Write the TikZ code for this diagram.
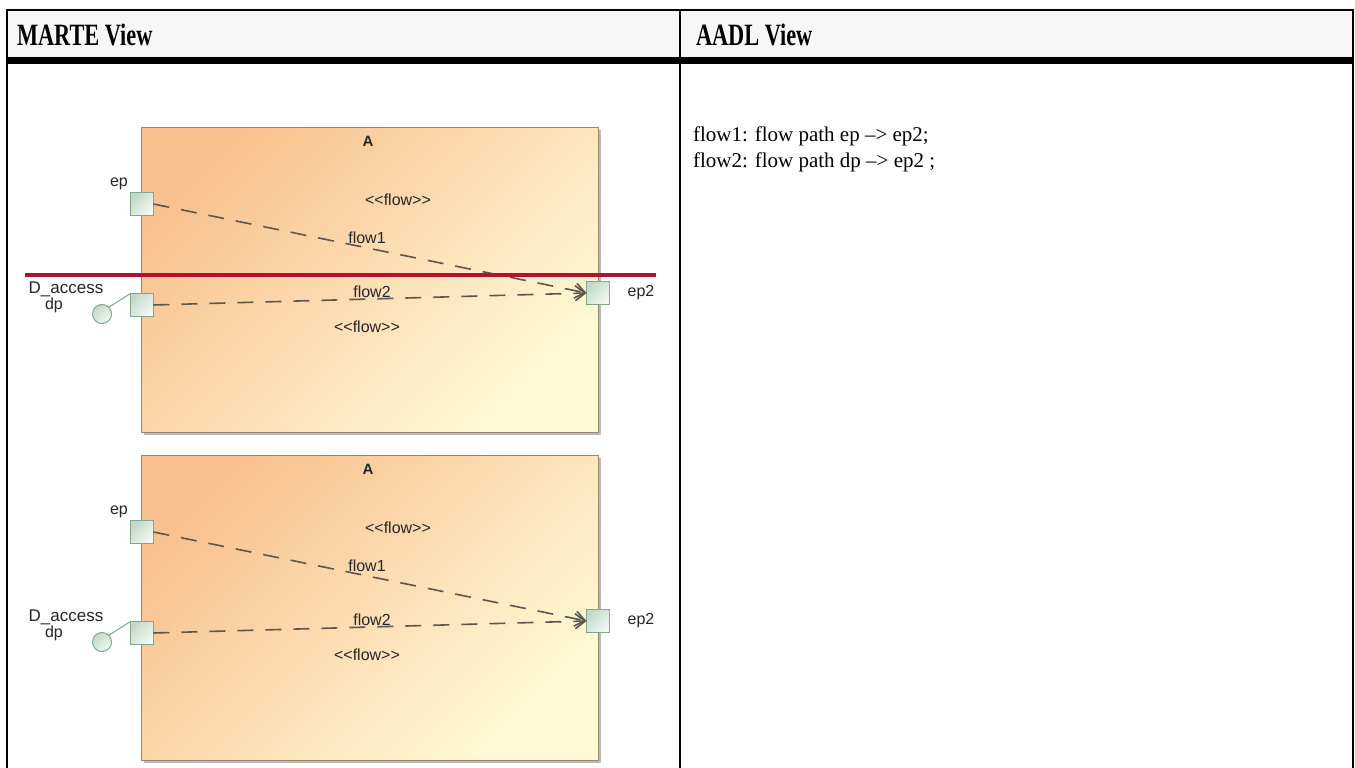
\documentclass[tikz,border=0pt]{standalone}
\usepackage{fontspec}
\setmainfont{Liberation Serif}
\setsansfont{Liberation Sans}
\newfontfamily\headfont{Liberation Serif}[FakeStretch=0.72]
\usepackage{xcolor}
\usetikzlibrary{arrows.meta,shadows}
\definecolor{boxtl}{HTML}{F9C18F}
\definecolor{boxbr}{HTML}{FFFAD6}
\definecolor{boxline}{HTML}{9A8670}
\definecolor{portdark}{HTML}{C3D9C8}
\definecolor{portlight}{HTML}{F2F8F2}
\definecolor{portline}{HTML}{7EA889}
\definecolor{flowgray}{HTML}{5E564C}
\definecolor{cutred}{HTML}{B3112C}
\definecolor{headgray}{HTML}{F7F7F7}

\begin{document}
\begin{tikzpicture}[x=1pt,y=-1pt,
  every node/.style={inner sep=0pt,outer sep=0pt},
  classbox/.style={draw=boxline,line width=1pt,top color=boxtl,
    bottom color=boxbr,shading angle=45,
    minimum width=457pt,minimum height=305pt,
    drop shadow={shadow xshift=3pt,shadow yshift=-3pt,
      fill=black!45,opacity=0.6}},
  port/.style={draw=portline,line width=1pt,top color=portdark,
    bottom color=portlight,shading angle=45,minimum size=23pt},
  lbl/.style={font=\sffamily\fontsize{16}{18}\selectfont,text=black!85},
  flowline/.style={draw=flowgray,line width=1.6pt,
    dash pattern=on 16pt off 12pt,
    -{Straight Barb[length=10pt,width=15pt]}},
  headtext/.style={anchor=base west,
    font=\headfont\bfseries\fontsize{31}{33}\selectfont},
  aadltext/.style={anchor=base west,font=\fontsize{21}{25}\selectfont}
]
\fill[white] (0,0) rectangle (1355,768);
\useasboundingbox (0,0) rectangle (1355,768);

% table frame
\fill[headgray] (7,10) rectangle (1353,57);
\draw[line width=2pt] (7,10) -- (1353,10);
\draw[line width=7pt] (7,60.5) -- (1353,60.5);
\draw[line width=2pt] (7,9) -- (7,768);
\draw[line width=2pt] (680,9) -- (680,768);
\draw[line width=2pt] (1353,9) -- (1353,768);
\node[headtext] (marte) at (17,46) {MARTE View};
\node[headtext] (aadl) at (696,46) {AADL View};

% the two MARTE diagrams
\foreach \n/\dy in {1/0,2/328}{
  \begin{scope}[shift={(0,\dy)}]
    \node[classbox] (box\n) at (369.5,279.5) {};
    \node[font=\sffamily\bfseries\fontsize{15}{17}\selectfont,text=black!85]
      (name\n) at (368,141) {A};
    \node[port] (ep\n) at (142,204) {};
    \node[port] (dp\n) at (142,305) {};
    \node[port] (eptwo\n) at (598,293) {};
    \node[port,circle,minimum size=19pt] (dpend\n) at (102,314) {};
    \node[lbl] (eplbl\n) at (119,184) {ep};
    \node[lbl,font=\sffamily\fontsize{17}{19}\selectfont] (dacc\n) at (66,289) {D\_access};
    \node[lbl] (dplbl\n) at (54,305) {dp};
    \node[lbl] (eptwolbl\n) at (641,293) {ep2};
    \node[lbl] (stereoa\n) at (398,200) {{<}{<}flow{>}{>}};
    \node[lbl] (flowa\n) at (367,238) {flow1};
    \node[lbl] (flowb\n) at (372,292) {flow2};
    \node[lbl] (stereob\n) at (367,327) {{<}{<}flow{>}{>}};
    \draw[portline,line width=1pt] (dpend\n.north east) -- (dp\n.north west);
    \draw[flowline] (ep\n.east) -- (eptwo\n.west);
    \draw[flowline] (dp\n.east) -- (eptwo\n.west);
  \end{scope}
}

% cut line
\coordinate (cutL) at (25,275);
\coordinate (cutR) at (656,275);
\draw[cutred,line width=4pt] (cutL) -- (cutR);

% AADL text
\node[aadltext] (flowpa) at (693,141) {flow1: flow path ep \textendash{>} ep2;};
\node[aadltext] (flowpb) at (693,167) {flow2: flow path dp \textendash{>} ep2 ;};
\end{tikzpicture}
\end{document}
